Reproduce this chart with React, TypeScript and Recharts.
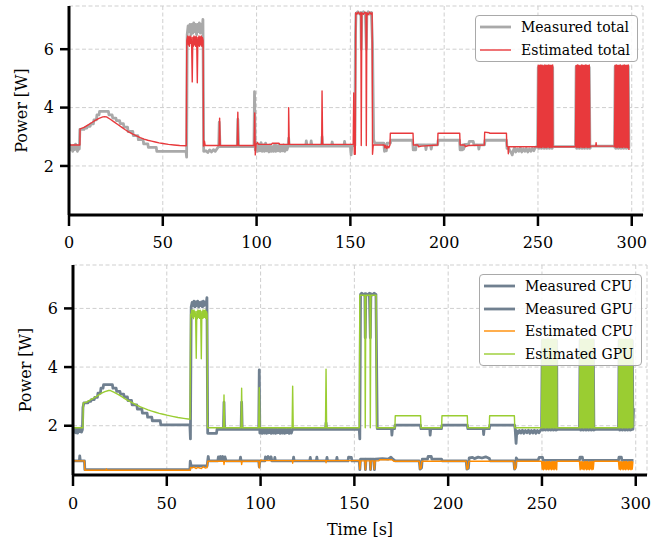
import React from 'react';
import { LineChart, Line, XAxis, YAxis, CartesianGrid, Legend } from 'recharts';

type Pt = [number, number];

const FONT = "'DejaVu Serif', serif";
const xTicks = [0, 50, 100, 150, 200, 250, 300];
const yTicks = [2, 4, 6];
const xDomain: [number, number] = [0, 306];
const yDomain: [number, number] = [0.32, 7.48];

const topLegendOrder = ['Measured total', 'Estimated total'];
const bottomLegendOrder = ['Measured CPU', 'Measured GPU', 'Estimated CPU', 'Estimated GPU'];

// sample times inside the three fast-switching bursts
const burst1T = [249.8, 250.15, 250.5, 250.85, 251.2, 251.55, 251.9, 252.25, 252.6, 252.95, 253.3, 253.65, 254.0, 254.35, 254.7, 255.05, 255.4, 255.75, 256.1, 256.45, 256.8, 257.15, 257.5, 257.85];
const burst2T = [270.0, 270.35, 270.7, 271.05, 271.4, 271.75, 272.1, 272.45, 272.8, 273.15, 273.5, 273.85, 274.2, 274.55, 274.9, 275.25, 275.6, 275.95, 276.3, 276.65, 277.0, 277.35, 277.7];
const burst3T = [290.8, 291.15, 291.5, 291.85, 292.2, 292.55, 292.9, 293.25, 293.6, 293.95, 294.3, 294.65, 295.0, 295.35, 295.7, 296.05, 296.4, 296.75, 297.1, 297.45, 297.8, 298.15];

// ---------- top panel: totals ----------
const measuredTotalMain: Pt[] = [
  [0, 2.6], [0.5, 2.72], [1, 2.55], [1.5, 2.68], [2, 2.5], [2.5, 2.7], [3, 2.56], [3.5, 2.75], [4, 2.6], [4.5, 2.5], [5, 2.7], [5.5, 2.58], [5.8, 3.25],
  [8, 3.25], [8.3, 3.3], [9.5, 3.3], [9.8, 3.36], [11.3, 3.36], [11.6, 3.44], [13, 3.44], [13.3, 3.58], [14.6, 3.58], [14.9, 3.75], [16, 3.75], [16.3, 3.87], [21, 3.87], [21.3, 3.75], [23, 3.75], [23.3, 3.64], [25, 3.64], [25.3, 3.55], [27, 3.55], [27.3, 3.45], [29, 3.45], [29.3, 3.33], [31.2, 3.33], [31.5, 3.18], [34, 3.18], [34.3, 3.04], [36.7, 3.04], [37, 2.9], [39.5, 2.9], [39.8, 2.76], [42, 2.76], [42.3, 2.64], [46.5, 2.64], [46.8, 2.5], [62.4, 2.5], [62.7, 2.3],
  [63, 6.5], [63.5, 6.8], [64, 6.6], [64.5, 6.85], [65, 6.5], [65.5, 6.85], [66, 6.55], [66.5, 6.9], [67, 6.6], [67.5, 6.85], [68, 6.5], [68.5, 6.85], [69, 6.6], [69.5, 6.9], [70, 6.55], [70.5, 6.85], [71, 6.6], [71.4, 7.02], [71.8, 2.5],
  [73, 2.52], [74, 2.46], [75, 2.55], [76, 2.48], [77, 2.56], [78, 2.5], [79, 2.6], [79.8, 2.66], [80.1, 3.5], [80.5, 2.66], [89.7, 2.66], [90, 3.6], [90.4, 2.66], [98.6, 2.66], [98.9, 4.55], [99.3, 2.55],
  [100, 2.8], [100.6, 2.5], [101.2, 2.75], [101.8, 2.52], [102.4, 2.8], [103, 2.5], [103.6, 2.72], [104.2, 2.5], [104.8, 2.78], [105.4, 2.52], [106, 2.7], [106.6, 2.48], [107.2, 2.72], [107.8, 2.5], [108.4, 2.66], [109, 2.5], [109.6, 2.74], [110.2, 2.5], [110.8, 2.7], [111.4, 2.52], [112, 2.72], [112.6, 2.5], [113.2, 2.68], [113.8, 2.52], [114.4, 2.72], [115, 2.5], [115.6, 2.7], [116.2, 2.55], [116.8, 2.68], [117.1, 2.95], [117.4, 2.68],
  [126.2, 2.68], [126.5, 2.86], [126.9, 2.68], [128.8, 2.68], [129.1, 2.86], [129.5, 2.68], [134.6, 2.68], [134.9, 3.0], [135.2, 2.68], [140, 2.68], [140.3, 2.82], [140.7, 2.68], [146.6, 2.68], [146.9, 2.84], [147.3, 2.68], [150, 2.68], [150.4, 2.38], [150.8, 2.7], [152.4, 2.7],
  [152.7, 6.5], [153, 7.22], [154, 7.28], [155, 7.2], [155.6, 7.26], [155.8, 6.0], [156.1, 7.2], [157, 7.28], [158, 7.2], [158.5, 6.0], [158.8, 7.22], [159.5, 7.28], [160.5, 7.2], [161.2, 7.26], [161.8, 6.2], [162.4, 2.9], [163, 2.78],
  [167.8, 2.78], [168.2, 2.5], [168.8, 2.72], [169.2, 2.52], [169.6, 2.78], [171.3, 2.78], [171.6, 2.88], [183.2, 2.88], [183.5, 2.55], [184.8, 2.55], [185.1, 2.72], [190, 2.72], [190.3, 2.56], [190.7, 2.72], [192.8, 2.72], [193.1, 2.58], [193.5, 2.72], [196.5, 2.72], [196.8, 2.88], [208.2, 2.88], [208.5, 2.55], [209.7, 2.55], [210, 2.72], [210.4, 2.58], [210.9, 2.74], [213, 2.74], [213.4, 2.84], [215.5, 2.84], [215.9, 2.72], [218.2, 2.72], [218.5, 2.58], [218.9, 2.72], [221.5, 2.72], [221.8, 2.88], [233.2, 2.88], [233.5, 2.6], [234.5, 2.6], [235, 2.52], [235.8, 2.45], [236.3, 2.38], [236.8, 2.52], [237.5, 2.62], [238.2, 2.48], [239, 2.58], [239.8, 2.5], [240.6, 2.62], [241.4, 2.48], [242.2, 2.58], [243, 2.5], [243.8, 2.6], [244.6, 2.48], [245.4, 2.58], [246.2, 2.5], [247, 2.6], [247.8, 2.52], [248.6, 2.64], [249.5, 2.66],
];
const measuredTotalB1 = [2.64, 5.38, 2.6, 5.42, 2.62, 5.36, 2.6, 5.4, 2.63, 5.42, 2.6, 5.38, 2.62, 5.4, 2.6, 5.42, 2.63, 5.37, 2.6, 5.4, 2.62, 5.42, 2.6, 5.38];
const measuredTotalGap1: Pt[] = [[258.0, 2.64], [258.3, 2.66], [269.7, 2.66]];
const measuredTotalB2 = [2.65, 5.4, 2.6, 5.42, 2.62, 5.37, 2.6, 5.41, 2.63, 5.38, 2.6, 5.42, 2.62, 5.4, 2.6, 5.37, 2.63, 5.42, 2.6, 5.4, 2.62, 5.38, 2.6];
const measuredTotalGap2: Pt[] = [[278.0, 2.64], [278.3, 2.68], [290.5, 2.68]];
const measuredTotalB3 = [2.65, 5.41, 2.6, 5.38, 2.62, 5.42, 2.6, 5.4, 2.63, 5.37, 2.6, 5.42, 2.62, 5.4, 2.6, 5.38, 2.63, 5.42, 2.6, 5.4, 2.62, 5.41];
const measuredTotalEnd: Pt[] = [[298.5, 2.6]];

const estimatedTotalMain: Pt[] = [
  [0, 2.72], [5.8, 2.72], [5.9, 3.27], [8, 3.32], [10, 3.4], [12, 3.48], [14, 3.56], [16, 3.63], [18, 3.68], [19, 3.69], [20, 3.68], [22, 3.6], [24, 3.51], [26, 3.42], [28, 3.33], [30, 3.24], [32, 3.16], [34, 3.09], [36, 3.03], [38, 2.97], [40, 2.92], [42, 2.88], [44, 2.85], [46, 2.82], [48, 2.79], [50, 2.77], [53, 2.74], [56, 2.72], [59, 2.7], [62.5, 2.69], [62.8, 6.3],
  [63.3, 6.45], [63.6, 6.15], [63.9, 6.42], [64.2, 6.1], [64.5, 6.45], [64.8, 6.2], [65.1, 6.42], [65.4, 6.12], [65.7, 4.88], [66, 6.4], [66.3, 6.1], [66.6, 6.45], [66.9, 6.15], [67.2, 6.42], [67.5, 6.1], [67.8, 6.44], [68.1, 6.2], [68.4, 4.85], [68.7, 6.4], [69, 6.12], [69.3, 6.45], [69.6, 6.1], [69.9, 6.42], [70.2, 6.15], [70.5, 6.45], [70.8, 6.1], [71.1, 6.4], [71.5, 6.3], [71.7, 2.68], [72.2, 2.85], [72.6, 2.7],
  [80, 2.7], [80.3, 3.64], [80.6, 2.7], [89.7, 2.7], [90, 3.84], [90.3, 2.7], [98.7, 2.7], [99, 3.82], [99.3, 2.38], [99.7, 2.74], [100.5, 2.8], [101, 2.74], [108, 2.74], [108.3, 2.78], [112, 2.78], [112.3, 2.74], [117, 2.74], [117.1, 4.0], [117.4, 2.74], [134.7, 2.74], [134.9, 4.57], [135.2, 2.74], [151.5, 2.74], [151.8, 4.5], [152.1, 2.4], [152.6, 2.4],
  [152.9, 7.25], [153.5, 7.2], [154.2, 7.27], [155, 7.2], [155.6, 7.25], [155.8, 2.7], [156.1, 7.25], [157, 7.2], [157.8, 7.27], [158.3, 7.22], [158.5, 2.7], [158.8, 7.25], [159.5, 7.18], [160.3, 7.27], [161, 7.2], [161.6, 7.25], [161.8, 2.4], [162.2, 2.72],
  [168, 2.72], [168.4, 2.62], [168.8, 2.7], [169.4, 2.6], [169.9, 2.68], [170.5, 2.62], [171.1, 2.72], [171.3, 3.12], [183.4, 3.12], [183.6, 2.72], [186, 2.72], [186.3, 2.66], [188, 2.68], [196.5, 2.72], [196.7, 3.12], [208.3, 3.12], [208.5, 2.72], [211, 2.72], [211.3, 2.66], [213, 2.7], [221.4, 2.72], [221.6, 3.16], [224, 3.14], [224.3, 3.12], [233.2, 3.12], [233.4, 2.68], [234, 2.66], [234.2, 2.42], [234.5, 2.66], [249.6, 2.66],
];
const estimatedTotalB1 = [2.65, 5.45, 2.63, 5.44, 2.64, 5.46, 2.63, 5.45, 2.65, 5.43, 2.63, 5.46, 2.64, 5.45, 2.63, 5.44, 2.65, 5.46, 2.63, 5.45, 2.64, 5.44, 2.63, 5.46];
const estimatedTotalGap1: Pt[] = [[258.0, 2.66], [269.8, 2.66]];
const estimatedTotalB2 = [2.66, 5.44, 2.63, 5.46, 2.64, 5.45, 2.63, 5.43, 2.65, 5.46, 2.63, 5.45, 2.64, 5.44, 2.63, 5.46, 2.65, 5.45, 2.63, 5.44, 2.64, 5.46, 2.63];
const estimatedTotalGap2: Pt[] = [[278.0, 2.68], [280.8, 2.68], [281, 2.8], [281.2, 2.68], [290.6, 2.68]];
const estimatedTotalB3 = [2.66, 5.45, 2.64, 5.46, 2.63, 5.44, 2.65, 5.45, 2.63, 5.46, 2.64, 5.43, 2.63, 5.45, 2.65, 5.46, 2.63, 5.44, 2.64, 5.45, 2.63, 5.46];
const estimatedTotalEnd: Pt[] = [[298.5, 2.55]];

// ---------- bottom panel: CPU / GPU ----------
const measuredCpuMain: Pt[] = [
  [0, 0.8], [3.4, 0.8], [3.6, 0.97], [3.9, 0.8], [6.1, 0.8], [6.3, 0.5], [62.3, 0.5], [62.5, 0.79], [63, 0.63], [71.5, 0.63], [71.8, 0.8], [72.1, 0.95], [72.4, 0.8],
  [77.2, 0.8], [77.5, 0.94], [78, 0.82], [78.6, 0.95], [79.2, 0.82], [79.8, 0.95], [80.4, 0.82], [81, 0.94], [81.6, 0.8], [89, 0.8], [89.3, 0.93], [89.6, 0.8], [99, 0.8], [99.3, 0.6], [99.6, 0.8],
  [102.3, 0.8], [102.6, 0.94], [103.3, 0.86], [104, 0.95], [104.8, 0.86], [105.6, 0.94], [106, 0.8], [107.3, 0.8], [107.6, 0.92], [107.9, 0.8], [117.3, 0.8], [117.6, 0.93], [117.9, 0.8], [126.2, 0.8], [126.5, 0.92], [126.8, 0.8], [129.7, 0.8], [130, 0.93], [130.3, 0.8], [135.1, 0.8], [135.4, 0.92], [135.7, 0.8], [140.4, 0.8], [140.7, 0.92], [141, 0.8], [146.6, 0.8], [146.9, 0.93], [148.4, 0.92], [148.7, 0.8],
  [152.6, 0.8], [152.9, 0.5], [153.3, 0.86], [155.7, 0.86], [155.9, 0.5], [156.2, 0.86], [158.4, 0.86], [158.6, 0.5], [158.9, 0.86], [160.4, 0.86], [160.7, 0.5], [161, 0.86], [165, 0.88], [168, 0.86], [169.5, 0.93], [170.5, 0.86], [171.8, 0.8],
  [184.6, 0.8], [185, 0.52], [185.8, 0.56], [186.2, 0.86], [189, 0.86], [189.3, 0.95], [191, 0.95], [191.3, 0.86], [196.5, 0.86], [196.8, 0.8], [209.6, 0.8], [210, 0.52], [210.8, 0.55], [211.2, 0.9], [213, 0.92], [214, 0.88], [216, 0.93], [218, 0.9], [220, 0.94], [222, 0.88], [222.4, 0.8],
  [235, 0.8], [235.4, 0.52], [236, 0.6], [236.3, 0.9], [237, 0.83], [248, 0.83], [248.5, 0.92], [250.3, 0.92], [250.6, 0.82], [270, 0.82], [270.3, 0.93], [271.5, 0.93], [271.8, 0.82], [290.8, 0.82], [291.1, 0.93], [292.3, 0.93], [292.6, 0.82], [298.8, 0.82],
];

const measuredGpuMain: Pt[] = [
  [0, 1.85], [0.5, 1.78], [1, 1.9], [1.5, 1.76], [2, 1.88], [2.5, 1.75], [3, 1.9], [3.5, 1.8], [4, 1.92], [4.5, 1.78], [5, 1.86], [5.3, 2.62], [5.8, 2.78],
  [8, 2.78], [8.3, 2.83], [9.5, 2.83], [9.8, 2.89], [11.3, 2.89], [11.6, 2.97], [13, 2.97], [13.3, 3.11], [14.6, 3.11], [14.9, 3.28], [16, 3.28], [16.3, 3.4], [21, 3.4], [21.3, 3.28], [23, 3.28], [23.3, 3.17], [25, 3.17], [25.3, 3.08], [27, 3.08], [27.3, 2.98], [29, 2.98], [29.3, 2.86], [31.2, 2.86], [31.5, 2.71], [34, 2.71], [34.3, 2.57], [36.7, 2.57], [37, 2.43], [39.5, 2.43], [39.8, 2.29], [42, 2.29], [42.3, 2.17], [46.5, 2.17], [46.8, 2.03], [62.3, 2.03], [62.6, 1.55],
  [63, 6.05], [63.5, 6.2], [64, 6.1], [64.5, 6.25], [65, 6.05], [65.5, 6.22], [66, 6.1], [66.5, 6.25], [67, 6.05], [67.5, 6.2], [68, 6.1], [68.5, 6.22], [69, 6.05], [69.5, 6.25], [70, 6.1], [70.5, 6.2], [71, 6.15], [71.4, 6.37], [71.8, 1.74],
  [76.5, 1.74], [76.8, 1.88], [80.2, 1.88], [80.5, 2.8], [80.8, 1.88], [89.6, 1.88], [89.9, 2.8], [90.2, 1.88], [99, 1.88], [99.3, 3.9], [99.6, 1.75],
  [100.2, 1.9], [100.8, 1.74], [101.4, 1.88], [102, 1.75], [102.6, 1.9], [103.2, 1.74], [103.8, 1.88], [104.4, 1.76], [105, 1.9], [105.6, 1.74], [106.2, 1.88], [106.8, 1.75], [107.4, 1.9], [108, 1.74], [108.6, 1.88], [109.2, 1.76], [109.8, 1.9], [110.4, 1.74], [111, 1.88], [111.6, 1.75], [112.2, 1.9], [112.8, 1.74], [113.4, 1.88], [114, 1.76], [114.6, 1.9], [115.2, 1.74], [115.8, 1.88], [116.4, 1.75], [117, 1.88],
  [134.6, 1.88], [134.9, 2.1], [135.2, 1.88], [152.6, 1.88], [152.9, 1.55], [153.3, 6.48], [154, 6.52], [155, 6.46], [155.6, 6.5], [155.8, 5.0], [156.1, 6.5], [157, 6.46], [158, 6.52], [158.5, 5.0], [158.8, 6.5], [159.5, 6.46], [160.5, 6.52], [161.5, 6.48], [162.2, 1.9],
  [169.8, 1.9], [170, 1.68], [170.3, 1.9], [171.4, 1.9], [171.7, 2.02], [185.2, 2.02], [185.5, 1.9], [190.2, 1.9], [190.4, 1.68], [190.7, 1.9], [196.4, 1.9], [196.7, 2.02], [210.2, 2.02], [210.5, 1.9], [218.7, 1.9], [218.9, 1.7], [219.2, 1.9], [221.9, 1.9], [222.2, 2.02], [235.4, 2.02], [235.7, 1.9], [236.2, 1.4], [236.6, 1.82], [237.3, 1.74], [238, 1.84], [238.8, 1.75], [239.6, 1.85], [240.4, 1.74], [241.2, 1.84], [242, 1.76], [242.8, 1.85], [243.6, 1.74], [244.4, 1.84], [245.2, 1.75], [246, 1.85], [246.8, 1.74], [247.6, 1.84], [248.4, 1.76], [249.4, 1.86],
];
const measuredGpuB1 = [1.88, 4.9, 1.85, 4.92, 1.87, 4.88, 1.85, 4.91, 1.88, 4.9, 1.85, 4.92, 1.87, 4.89, 1.85, 4.91, 1.88, 4.9, 1.85, 4.92, 1.87, 4.88, 1.85, 4.9];
const measuredGpuGap1: Pt[] = [[258.0, 1.86], [258.3, 1.88], [269.7, 1.88]];
const measuredGpuB2 = [1.88, 4.91, 1.85, 4.9, 1.87, 4.92, 1.85, 4.88, 1.88, 4.91, 1.85, 4.9, 1.87, 4.92, 1.85, 4.89, 1.88, 4.9, 1.85, 4.91, 1.87, 4.92, 1.85];
const measuredGpuGap2: Pt[] = [[278.0, 1.86], [278.3, 1.88], [290.5, 1.88]];
const measuredGpuB3 = [1.88, 4.9, 1.85, 4.92, 1.87, 4.89, 1.85, 4.91, 1.88, 4.9, 1.85, 4.92, 1.87, 4.88, 1.85, 4.91, 1.88, 4.9, 1.85, 4.92, 1.87, 4.9];
const measuredGpuEnd: Pt[] = [[298.5, 1.88], [298.8, 2.6]];

const estimatedCpuMain: Pt[] = [
  [0, 0.8], [6.1, 0.8], [6.3, 0.48], [17.6, 0.48], [17.8, 0.53], [18, 0.48], [62.4, 0.48], [62.7, 0.58], [63.5, 0.56], [64.5, 0.59], [65.7, 0.54], [66.5, 0.58], [67.5, 0.56], [68.4, 0.54], [69.5, 0.6], [70.5, 0.56], [71.5, 0.57], [71.8, 0.79],
  [80.3, 0.79], [80.5, 0.68], [80.8, 0.79], [89.7, 0.79], [89.9, 0.68], [90.2, 0.79], [99.1, 0.79], [99.3, 0.56], [99.6, 0.76], [100.2, 0.83], [101, 0.81], [117, 0.81], [117.1, 0.72], [117.3, 0.81], [134.8, 0.81], [134.9, 0.74], [135.1, 0.81],
  [152.6, 0.81], [152.9, 0.52], [153.3, 0.8], [155.7, 0.8], [155.9, 0.5], [156.2, 0.8], [158.4, 0.8], [158.6, 0.5], [158.9, 0.8], [160.4, 0.8], [160.7, 0.52], [161, 0.8], [163, 0.8], [163.5, 0.84], [170, 0.84], [171, 0.79],
  [184.6, 0.79], [185, 0.52], [185.6, 0.56], [186, 0.79], [209.6, 0.79], [210, 0.52], [210.6, 0.55], [211, 0.79], [235, 0.79], [235.4, 0.52], [236, 0.55], [236.4, 0.79], [249.6, 0.79],
];
const estimatedCpuB1 = [0.78, 0.52, 0.77, 0.5, 0.78, 0.53, 0.76, 0.5, 0.78, 0.52, 0.77, 0.5, 0.78, 0.53, 0.76, 0.5, 0.78, 0.52, 0.77, 0.5, 0.78, 0.53, 0.76, 0.5];
const estimatedCpuGap1: Pt[] = [[258.0, 0.79], [269.8, 0.79]];
const estimatedCpuB2 = [0.78, 0.5, 0.77, 0.53, 0.78, 0.52, 0.76, 0.5, 0.78, 0.53, 0.77, 0.5, 0.78, 0.52, 0.76, 0.5, 0.78, 0.53, 0.77, 0.5, 0.78, 0.52, 0.77];
const estimatedCpuGap2: Pt[] = [[278.0, 0.79], [290.6, 0.79]];
const estimatedCpuB3 = [0.78, 0.52, 0.77, 0.5, 0.78, 0.53, 0.76, 0.5, 0.78, 0.52, 0.77, 0.5, 0.78, 0.53, 0.76, 0.5, 0.78, 0.52, 0.77, 0.5, 0.78, 0.52];
const estimatedCpuEnd: Pt[] = [[298.5, 0.78]];

const estimatedGpuMain: Pt[] = [
  [0, 1.93], [5.3, 1.93], [5.5, 2.78], [7, 2.8], [9, 2.87], [11, 2.94], [13, 3.02], [15, 3.1], [17, 3.16], [19, 3.2], [20, 3.2], [22, 3.14], [24, 3.07], [26, 2.99], [28, 2.91], [30, 2.84], [32, 2.77], [34, 2.7], [36, 2.64], [38, 2.59], [40, 2.54], [42, 2.5], [44, 2.46], [46, 2.42], [48, 2.39], [50, 2.36], [53, 2.32], [56, 2.28], [59, 2.25], [62.4, 2.22], [62.7, 5.8],
  [63, 5.8], [63.3, 5.95], [63.6, 5.7], [63.9, 5.92], [64.2, 5.65], [64.5, 5.95], [64.8, 5.72], [65.1, 5.9], [65.4, 5.66], [65.7, 4.3], [66, 5.9], [66.3, 5.65], [66.6, 5.95], [66.9, 5.7], [67.2, 5.92], [67.5, 5.66], [67.8, 5.94], [68.1, 5.72], [68.4, 4.28], [68.7, 5.9], [69, 5.66], [69.3, 5.95], [69.6, 5.68], [69.9, 5.92], [70.2, 5.7], [70.5, 5.95], [70.8, 5.66], [71.1, 5.9], [71.5, 5.8], [71.7, 1.93],
  [80.2, 1.93], [80.5, 3.05], [80.8, 1.93], [89.6, 1.93], [89.9, 3.28], [90.2, 1.93], [99, 1.93], [99.3, 3.3], [99.6, 1.93], [116.8, 1.93], [117.1, 3.35], [117.4, 1.93], [134.6, 1.93], [134.9, 3.93], [135.2, 1.93],
  [152.6, 1.93], [152.9, 6.45], [155.6, 6.45], [155.8, 1.93], [156.1, 6.45], [158.3, 6.45], [158.5, 1.93], [158.8, 6.45], [161.6, 6.45], [161.8, 1.93],
  [171.6, 1.93], [171.8, 2.34], [185.3, 2.34], [185.5, 1.93], [196.5, 1.93], [196.7, 2.34], [210.2, 2.34], [210.4, 1.93], [221.9, 1.93], [222.1, 2.34], [235.3, 2.34], [235.5, 1.93], [249.6, 1.93],
];
const estimatedGpuB1 = [1.93, 4.95, 1.92, 4.96, 1.93, 4.94, 1.92, 4.95, 1.93, 4.96, 1.92, 4.95, 1.93, 4.94, 1.92, 4.96, 1.93, 4.95, 1.92, 4.94, 1.93, 4.96, 1.92, 4.95];
const estimatedGpuGap1: Pt[] = [[258.0, 1.93], [269.8, 1.93]];
const estimatedGpuB2 = [1.93, 4.96, 1.92, 4.95, 1.93, 4.94, 1.92, 4.96, 1.93, 4.95, 1.92, 4.94, 1.93, 4.96, 1.92, 4.95, 1.93, 4.94, 1.92, 4.96, 1.93, 4.95, 1.92];
const estimatedGpuGap2: Pt[] = [[278.0, 1.93], [290.6, 1.93]];
const estimatedGpuB3 = [1.93, 4.95, 1.92, 4.94, 1.93, 4.96, 1.92, 4.95, 1.93, 4.94, 1.92, 4.96, 1.93, 4.95, 1.92, 4.94, 1.93, 4.96, 1.92, 4.95, 1.93, 4.94];
const estimatedGpuEnd: Pt[] = [[298.5, 1.93]];

// ---------- table building ----------
type Row = { t: number; v: number };
const zip = (ts: number[], vs: number[]): Pt[] => ts.map((t, i) => [t, vs[i]] as Pt);
const rows = (...parts: Pt[][]): Row[] => parts.flat().map(([t, v]) => ({ t, v }));

const measuredTotal = rows(measuredTotalMain, zip(burst1T, measuredTotalB1), measuredTotalGap1, zip(burst2T, measuredTotalB2), measuredTotalGap2, zip(burst3T, measuredTotalB3), measuredTotalEnd);
const estimatedTotal = rows(estimatedTotalMain, zip(burst1T, estimatedTotalB1), estimatedTotalGap1, zip(burst2T, estimatedTotalB2), estimatedTotalGap2, zip(burst3T, estimatedTotalB3), estimatedTotalEnd);
const measuredCpu = rows(measuredCpuMain);
const measuredGpu = rows(measuredGpuMain, zip(burst1T, measuredGpuB1), measuredGpuGap1, zip(burst2T, measuredGpuB2), measuredGpuGap2, zip(burst3T, measuredGpuB3), measuredGpuEnd);
const estimatedCpu = rows(estimatedCpuMain, zip(burst1T, estimatedCpuB1), estimatedCpuGap1, zip(burst2T, estimatedCpuB2), estimatedCpuGap2, zip(burst3T, estimatedCpuB3), estimatedCpuEnd);
const estimatedGpu = rows(estimatedGpuMain, zip(burst1T, estimatedGpuB1), estimatedGpuGap1, zip(burst2T, estimatedGpuB2), estimatedGpuGap2, zip(burst3T, estimatedGpuB3), estimatedGpuEnd);

const C_MEAS_TOTAL = '#a9a9a9';
const C_EST_TOTAL = '#e8393c';
const C_SLATE = '#708090';
const C_ORANGE = '#ff8c00';
const C_GREEN = '#9acd32';
const W_MEAS = 2.8;
const W_EST = 1.4;

const tickStyle = { fill: '#000', fontSize: 16, fontFamily: FONT };
const axisLineStyle = { stroke: '#000', strokeWidth: 3 };
const tickLineStyle = { stroke: '#000', strokeWidth: 2.5 };

const makeLegend = (order: string[]) => (props: any) => {
  const payload = [...(props.payload || [])].sort(
    (a: any, b: any) => order.indexOf(a.value) - order.indexOf(b.value)
  );
  return (
    <div
      style={{
        display: 'inline-block',
        border: '1px solid #a9a9a9',
        borderRadius: 4,
        background: 'rgba(255,255,255,0.85)',
        padding: '0px 7px 0px 4px',
        fontFamily: FONT,
        fontSize: 14,
        color: '#000',
      }}
    >
      {payload.map((entry: any) => (
        <div key={entry.value} style={{ display: 'flex', alignItems: 'center', height: 22.6 }}>
          <svg width={31} height={8} style={{ display: 'block' }}>
            <line x1={0} x2={31} y1={4} y2={4} stroke={entry.color} strokeWidth={entry.payload?.strokeWidth ?? 2} />
          </svg>
          <span style={{ marginLeft: 10, whiteSpace: 'nowrap', lineHeight: '20px' }}>{entry.value}</span>
        </div>
      ))}
    </div>
  );
};
const TopLegend = makeLegend(topLegendOrder);
const BottomLegend = makeLegend(bottomLegendOrder);

const lineProps = { type: 'linear' as const, dataKey: 'v', dot: false, activeDot: false, isAnimationActive: false, strokeLinejoin: 'round' as const };

export default function App() {
  return (
    <div style={{ position: 'absolute', left: 0, top: 0, width: 666, height: 543, background: '#fff' }}>
      <div style={{ position: 'absolute', left: 0, top: 0 }}>
        <LineChart width={666} height={258} margin={{ top: 6, right: 23, bottom: 8, left: 0 }}>
          <CartesianGrid stroke="#cfcfcf" strokeDasharray="4 2.5" strokeWidth={1} />
          <XAxis dataKey="t" type="number" domain={xDomain} ticks={xTicks} interval={0} allowDataOverflow height={35} tickSize={11} tickMargin={11} tick={tickStyle} tickLine={tickLineStyle} axisLine={axisLineStyle} />
          <XAxis xAxisId="top" orientation="top" dataKey="t" type="number" domain={xDomain} height={0} tick={false} tickLine={false} axisLine={axisLineStyle} />
          <YAxis type="number" domain={yDomain} ticks={yTicks} interval={0} allowDataOverflow width={69} tickSize={9} tickMargin={6} tick={tickStyle} tickLine={tickLineStyle} axisLine={axisLineStyle}
            label={{ value: 'Power [W]', angle: -90, position: 'insideLeft', offset: 21, style: { textAnchor: 'middle', fontFamily: FONT, fontSize: 16, fill: '#000' } }} />
          <YAxis yAxisId="right" orientation="right" type="number" domain={yDomain} width={0} tick={false} tickLine={false} axisLine={axisLineStyle} />
          <Line {...lineProps} data={measuredTotal} name="Measured total" stroke={C_MEAS_TOTAL} strokeWidth={W_MEAS} />
          <Line {...lineProps} data={estimatedTotal} name="Estimated total" stroke={C_EST_TOTAL} strokeWidth={W_EST} />
          <Legend layout="horizontal" verticalAlign="middle" align="center" content={TopLegend}
            wrapperStyle={{ left: 475, top: 15, width: 'auto', height: 'auto', right: 'auto', bottom: 'auto' }} />
        </LineChart>
      </div>
      <div style={{ position: 'absolute', left: 0, top: 260 }}>
        <LineChart width={666} height={283} margin={{ top: 5, right: 19, bottom: 0, left: 0 }}>
          <CartesianGrid stroke="#cfcfcf" strokeDasharray="4 2.5" strokeWidth={1} />
          <XAxis dataKey="t" type="number" domain={xDomain} ticks={xTicks} interval={0} allowDataOverflow height={68} tickSize={11} tickMargin={12} tick={tickStyle} tickLine={tickLineStyle} axisLine={axisLineStyle}
            label={{ value: 'Time [s]', position: 'insideBottom', offset: 8, style: { fontFamily: FONT, fontSize: 16, fill: '#000' } }} />
          <XAxis xAxisId="top" orientation="top" dataKey="t" type="number" domain={xDomain} height={0} tick={false} tickLine={false} axisLine={axisLineStyle} />
          <YAxis type="number" domain={yDomain} ticks={yTicks} interval={0} allowDataOverflow width={73} tickSize={9} tickMargin={6} tick={tickStyle} tickLine={tickLineStyle} axisLine={axisLineStyle}
            label={{ value: 'Power [W]', angle: -90, position: 'insideLeft', offset: 25, style: { textAnchor: 'middle', fontFamily: FONT, fontSize: 16, fill: '#000' } }} />
          <YAxis yAxisId="right" orientation="right" type="number" domain={yDomain} width={0} tick={false} tickLine={false} axisLine={axisLineStyle} />
          <Line {...lineProps} data={measuredCpu} name="Measured CPU" stroke={C_SLATE} strokeWidth={W_MEAS} />
          <Line {...lineProps} data={measuredGpu} name="Measured GPU" stroke={C_SLATE} strokeWidth={W_MEAS} />
          <Line {...lineProps} data={estimatedCpu} name="Estimated CPU" stroke={C_ORANGE} strokeWidth={W_EST} />
          <Line {...lineProps} data={estimatedGpu} name="Estimated GPU" stroke={C_GREEN} strokeWidth={W_EST} />
          <Legend layout="horizontal" verticalAlign="middle" align="center" content={BottomLegend}
            wrapperStyle={{ left: 479, top: 14, width: 'auto', height: 'auto', right: 'auto', bottom: 'auto' }} />
        </LineChart>
      </div>
    </div>
  );
}
